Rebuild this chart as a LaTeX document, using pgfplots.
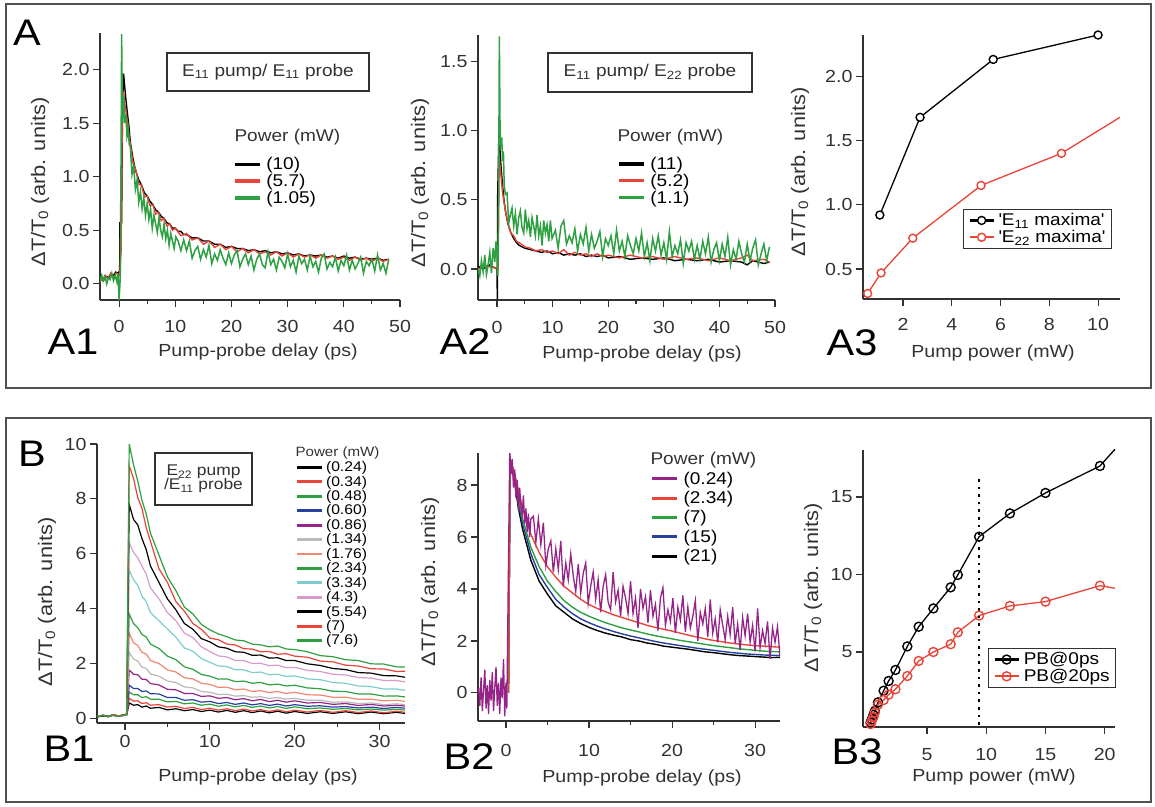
\documentclass[border=0pt]{standalone}
\usepackage{fontspec}
\setmainfont{Liberation Sans}[FakeStretch=1.12]
\usepackage{graphicx}
\usepackage{pgfplots}
\usepackage{pgfplotstable}
\pgfplotsset{compat=1.18}
\definecolor{cgreen}{RGB}{45,160,65}
\definecolor{cred}{RGB}{232,68,56}
\definecolor{cblue}{RGB}{40,65,160}
\definecolor{cpurple}{RGB}{150,35,135}
\definecolor{cgray}{RGB}{185,185,185}
\definecolor{csalmon}{RGB}{240,135,115}
\definecolor{ccyan}{RGB}{125,205,205}
\definecolor{cpink}{RGB}{215,155,205}
\definecolor{caxis}{RGB}{50,50,50}
\definecolor{cframe}{RGB}{80,80,80}
\newcommand{\fs}[1]{\fontsize{#1}{#1}\selectfont}
\pgfplotsset{
 panel/.style={
  scale only axis, anchor=south west,
  axis lines*=left,
  axis line style={-, line width=1.1pt, caxis},
  tick pos=left, tick align=outside,
  major tick length=7pt, minor tick length=4pt,
  tick style={caxis, line width=1.1pt},
  tick label style={font=\fs{17.5}, text=caxis},
  /pgf/number format/assume math mode=true,
  legend cell align=left,
 },
 nolegbox/.style={legend style={draw=none, fill=none, inner sep=0pt, nodes={inner sep=0pt}, column sep=5pt}},
 linelegend/.style={legend image code/.code={\draw[##1, line width=3.2pt] (0pt,0pt) -- (25pt,0pt);}},
 marklegend/.style={legend image code/.code={\draw[mark repeat=2,mark phase=2,##1, line width=2.2pt] plot coordinates {(0pt,0pt) (12pt,0pt) (24pt,0pt)};}},
}
\pgfplotstableread{
t k24 r34 g48 b60 p86 gy134 s176 g234 c334 pk43 k554 r7 g76
-3.3 0.05 0.06 0.04 0.05 0.06 0.05 0.04 0.05 0.06 0.05 0.04 0.05 0.06
-2.6 0.09 0.1 0.11 0.08 0.1 0.09 0.11 0.1 0.09 0.1 0.08 0.1 0.09
-2.0 0.06 0.05 0.07 0.06 0.05 0.07 0.06 0.05 0.06 0.07 0.06 0.05 0.07
-1.4 0.11 0.12 0.1 0.11 0.13 0.1 0.12 0.11 0.1 0.12 0.11 0.13 0.1
-0.8 0.07 0.08 0.06 0.08 0.07 0.06 0.08 0.07 0.08 0.06 0.07 0.08 0.06
-0.2 0.1 0.09 0.11 0.1 0.09 0.11 0.1 0.12 0.1 0.09 0.11 0.1 0.12
0.2 0.12 0.12 0.13 0.12 0.14 0.13 0.12 0.14 0.13 0.12 0.14 0.13 0.15
0.5 0.55 0.72 0.95 1.2 1.75 2.4 3.1 3.8 5.4 6.4 7.8 9.2 10.0
1 0.47 0.62 0.85 1.08 1.6 2.15 2.75 3.45 5.05 6.05 7.25 8.75 9.25
1.5 0.49 0.63 0.85 1.08 1.58 2.08 2.65 3.3 4.85 5.85 7.05 8.05 8.65
2 0.4 0.53 0.75 0.97 1.42 1.86 2.4 3.05 4.45 5.55 6.55 7.65 7.95
2.5 0.44 0.56 0.78 0.99 1.41 1.81 2.34 2.96 4.25 5.25 6.15 6.95 7.45
3 0.36 0.47 0.69 0.89 1.26 1.61 2.1 2.7 3.85 4.75 5.55 6.45 6.75
4 0.39 0.49 0.69 0.88 1.21 1.53 1.99 2.54 3.55 4.35 4.95 5.45 5.95
5 0.3 0.4 0.59 0.75 1.05 1.35 1.76 2.26 3.25 3.85 4.35 4.95 5.15
6 0.34 0.43 0.61 0.75 1.03 1.3 1.68 2.13 2.95 3.55 3.95 4.25 4.65
7 0.27 0.35 0.52 0.65 0.9 1.14 1.47 1.87 2.56 3.1 3.45 3.9 4.05
8 0.31 0.39 0.55 0.67 0.9 1.1 1.43 1.78 2.44 2.94 3.24 3.45 3.8
9 0.24 0.31 0.47 0.58 0.79 0.97 1.27 1.59 2.17 2.6 2.9 3.24 3.42
10 0.29 0.36 0.51 0.61 0.81 0.94 1.23 1.53 2.04 2.43 2.78 2.92 3.22
11 0.22 0.29 0.43 0.53 0.72 0.86 1.12 1.42 1.9 2.27 2.6 2.86 3.07
12 0.28 0.34 0.48 0.57 0.75 0.87 1.13 1.43 1.88 2.23 2.55 2.7 2.97
13 0.21 0.27 0.41 0.5 0.67 0.8 1.03 1.33 1.76 2.1 2.42 2.67 2.85
14 0.27 0.33 0.46 0.55 0.71 0.82 1.06 1.35 1.76 2.1 2.4 2.53 2.82
15 0.2 0.26 0.39 0.48 0.63 0.76 0.97 1.27 1.66 1.99 2.29 2.52 2.7
16 0.26 0.31 0.44 0.53 0.68 0.78 1.0 1.3 1.68 2.0 2.3 2.42 2.67
17 0.19 0.24 0.37 0.46 0.6 0.72 0.93 1.21 1.58 1.91 2.19 2.43 2.6
18 0.25 0.3 0.42 0.51 0.65 0.75 0.97 1.24 1.6 1.93 2.2 2.33 2.63
19 0.18 0.23 0.35 0.44 0.58 0.69 0.9 1.17 1.52 1.84 2.1 2.35 2.52
20 0.24 0.29 0.41 0.49 0.63 0.72 0.94 1.2 1.54 1.85 2.1 2.26 2.5
21.5 0.17 0.22 0.34 0.43 0.55 0.65 0.85 1.1 1.43 1.74 1.98 2.22 2.42
23 0.23 0.28 0.37 0.45 0.57 0.65 0.84 1.07 1.4 1.7 1.92 2.08 2.28
24.5 0.17 0.21 0.32 0.4 0.5 0.58 0.76 0.98 1.3 1.6 1.81 2.05 2.24
26 0.23 0.27 0.35 0.42 0.53 0.59 0.76 0.97 1.27 1.57 1.77 1.93 2.13
27.5 0.16 0.2 0.3 0.37 0.46 0.53 0.69 0.88 1.17 1.48 1.66 1.9 2.1
29 0.22 0.26 0.33 0.4 0.5 0.55 0.69 0.88 1.15 1.46 1.64 1.8 1.98
30.5 0.16 0.19 0.29 0.35 0.44 0.49 0.63 0.8 1.06 1.37 1.55 1.79 1.97
32 0.21 0.25 0.32 0.39 0.47 0.52 0.65 0.81 1.06 1.37 1.54 1.7 1.87
33 0.17 0.21 0.29 0.36 0.44 0.49 0.61 0.77 1.01 1.32 1.49 1.71 1.86
}\tabBone
\pgfplotstableread{
t k21 b15 g7 r234
0.3 0 0 0 0
0.5 9.0 9.0 9.0 9.0
1 8.2 8.3 8.4 8.5
1.5 7.1 7.3 7.5 7.8
2 6.3 6.5 6.7 7.1
2.5 5.7 5.95 6.15 6.6
3 5.1 5.35 5.6 6.1
4 4.3 4.55 4.85 5.4
5 3.8 4.05 4.3 4.85
6 3.35 3.6 3.9 4.45
7 3.1 3.3 3.55 4.1
8 2.85 3.05 3.3 3.85
9 2.67 2.85 3.1 3.6
10 2.52 2.7 2.95 3.4
11 2.4 2.57 2.82 3.25
12 2.3 2.46 2.7 3.12
13 2.22 2.36 2.6 3.0
14 2.15 2.27 2.5 2.9
15 2.05 2.19 2.42 2.8
16 2.0 2.12 2.35 2.7
17 1.92 2.05 2.27 2.6
18 1.87 1.98 2.2 2.52
19 1.8 1.92 2.14 2.45
20 1.76 1.87 2.08 2.38
21 1.72 1.82 2.02 2.3
22 1.68 1.77 1.97 2.22
23 1.63 1.72 1.92 2.15
24 1.58 1.68 1.87 2.08
25 1.55 1.64 1.82 2.02
26 1.51 1.6 1.78 1.97
27 1.47 1.56 1.74 1.92
28 1.44 1.53 1.7 1.88
29 1.42 1.5 1.67 1.85
30 1.4 1.48 1.64 1.82
31 1.38 1.46 1.61 1.8
32 1.36 1.45 1.59 1.78
33 1.37 1.44 1.58 1.76
}\tabBtwo
\begin{document}
\begin{tikzpicture}
\path[use as bounding box] (0pt,0pt) rectangle (1155pt,-806pt);
\draw[cframe, line width=1.5pt] (6pt,-4pt) rectangle (1151pt,-388pt);
\draw[cframe, line width=1.5pt] (6pt,-418pt) rectangle (1151pt,-802pt);

% ---------------- A1
\begin{axis}[panel, nolegbox, linelegend, at={(100pt,-300pt)}, width=300pt, height=267pt,
 xmin=-3.4, xmax=50, ymin=-0.15, ymax=2.34,
 xtick={0,10,20,30,40,50}, minor xtick={5,15,25,35,45}, ytick={0,0.5,1,1.5,2},
 xticklabel shift=10pt,
 yticklabel style={/pgf/number format/.cd,fixed,fixed zerofill,precision=1},
 legend style={at={(axis description cs:0.443,0.535)}, anchor=north west, font=\fs{17}, row sep=3pt}]
\addplot[black, line width=1.4pt] coordinates {(-3.4,0.03) (-3.0,0.06) (-2.6,0.04) (-2.2,0.07) (-1.8,0.06) (-1.4,0.09) (-1.0,0.08) (-0.6,0.11) (-0.2,0.1) (0.1,0.12) (0.15,0.57) (0.45,0.57) (0.6,1.6) (0.8,1.96) (1.0,1.84) (1.25,1.7) (1.5,1.58) (1.75,1.47) (2.0,1.32) (2.25,1.24) (2.5,1.16) (2.75,1.1) (3.0,1.05) (3.5,0.97) (4.0,0.92) (4.5,0.85) (5.0,0.82) (5.5,0.77) (6.0,0.74) (6.5,0.69) (7.0,0.67) (7.5,0.63) (8.0,0.61) (8.5,0.57) (9.0,0.56) (9.5,0.52) (10,0.52) (10.5,0.49) (11,0.49) (11.5,0.46) (12,0.46) (13,0.43) (14,0.43) (15,0.4) (16,0.4) (17,0.37) (18,0.37) (19,0.34) (20,0.35) (21,0.33) (22,0.33) (23,0.31) (24,0.32) (25,0.3) (26,0.31) (27,0.29) (28,0.3) (29,0.28) (30,0.29) (31,0.27) (32,0.28) (33,0.26) (34,0.27) (35,0.26) (36,0.27) (37,0.25) (38,0.26) (39,0.24) (40,0.26) (41,0.24) (42,0.25) (43,0.23) (44,0.24) (45,0.23) (46,0.24) (47,0.22) (48,0.23)};
\addlegendentry{(10)}
\addplot[cred, line width=1.4pt] coordinates {(-3.4,0.05) (-3.0,0.03) (-2.5,0.08) (-2.0,0.05) (-1.5,0.1) (-1.0,0.06) (-0.5,0.1) (0.1,0.08) (0.35,0.3) (0.6,1.75) (0.8,1.78) (1.0,1.68) (1.25,1.6) (1.5,1.5) (1.75,1.38) (2.0,1.3) (2.5,1.12) (3.0,1.06) (3.5,0.93) (4.0,0.92) (4.5,0.81) (5.0,0.82) (5.5,0.73) (6.0,0.74) (6.5,0.65) (7.0,0.67) (7.5,0.59) (8.0,0.61) (8.5,0.54) (9.0,0.56) (9.5,0.5) (10,0.52) (11,0.45) (12,0.47) (13,0.41) (14,0.43) (15,0.37) (16,0.4) (17,0.34) (18,0.37) (19,0.32) (20,0.35) (21,0.3) (22,0.33) (23,0.29) (24,0.32) (25,0.28) (26,0.3) (27,0.27) (28,0.3) (29,0.26) (30,0.29) (31,0.25) (32,0.28) (33,0.25) (34,0.27) (35,0.24) (36,0.27) (37,0.24) (38,0.26) (39,0.23) (40,0.25) (41,0.22) (42,0.25) (43,0.22) (44,0.24) (45,0.21) (46,0.24) (47,0.21) (48,0.23)};
\addlegendentry{(5.7)}
\addplot[cgreen, line width=1.5pt] coordinates {(-3.4,0.02) (-3.1,0.08) (-2.8,0.03) (-2.5,0.07) (-2.2,0.0) (-1.9,0.06) (-1.6,0.04) (-1.3,0.1) (-1.0,0.03) (-0.7,0.08) (-0.4,0.02) (-0.2,0.1) (0.0,-0.15) (0.2,0.05) (0.35,1.2) (0.45,2.33) (0.6,1.5) (0.8,1.75) (1.0,1.5) (1.2,1.58) (1.4,1.38) (1.6,1.45) (1.8,1.3) (2.0,1.28) (2.3,1.02) (2.6,1.1) (2.9,0.88) (3.2,0.97) (3.5,0.76) (3.8,0.86) (4.1,0.7) (4.4,0.8) (4.7,0.64) (5.0,0.75) (5.3,0.6) (5.6,0.7) (5.9,0.52) (6.2,0.64) (6.5,0.56) (6.8,0.48) (7.1,0.62) (7.4,0.5) (7.7,0.44) (8.0,0.56) (8.3,0.42) (8.6,0.5) (8.9,0.36) (9.2,0.47) (9.5,0.4) (9.8,0.33) (10.1,0.44) (10.5,0.40) (11.0,0.31) (11.5,0.41) (12.0,0.31) (12.5,0.40) (13.0,0.24) (13.5,0.31) (14.0,0.35) (14.5,0.23) (15.0,0.32) (15.5,0.25) (16.0,0.36) (16.5,0.19) (17.0,0.28) (17.5,0.22) (18.0,0.32) (18.5,0.24) (19.0,0.18) (19.5,0.29) (20.0,0.19) (20.5,0.27) (21.0,0.31) (21.5,0.16) (22.0,0.23) (22.5,0.28) (23.0,0.18) (23.5,0.26) (24.0,0.13) (24.5,0.23) (25.0,0.28) (25.5,0.18) (26.0,0.15) (26.5,0.30) (27.0,0.18) (27.5,0.23) (28.0,0.13) (28.5,0.25) (29.0,0.21) (29.5,0.15) (30.0,0.28) (30.5,0.16) (31.0,0.22) (31.5,0.11) (32.0,0.26) (32.5,0.19) (33.0,0.23) (33.5,0.13) (34.0,0.26) (34.5,0.16) (35.0,0.21) (35.5,0.11) (36.0,0.24) (36.5,0.28) (37.0,0.14) (37.5,0.20) (38.0,0.16) (38.5,0.25) (39.0,0.12) (39.5,0.22) (40.0,0.17) (40.5,0.27) (41.0,0.13) (41.5,0.22) (42.0,0.14) (42.5,0.19) (43.0,0.25) (43.5,0.10) (44.0,0.21) (44.5,0.17) (45.0,0.23) (45.5,0.12) (46.0,0.27) (46.5,0.13) (47.0,0.19) (47.5,0.10) (48.0,0.23)};
\addlegendentry{(1.05)}
\end{axis}

% ---------------- A2
\begin{axis}[panel, nolegbox, linelegend, at={(478pt,-300pt)}, width=297pt, height=265pt,
 xmin=-3.42, xmax=50, ymin=-0.224, ymax=1.69,
 xtick={0,10,20,30,40,50}, minor xtick={5,15,25,35,45}, ytick={0,0.5,1,1.5},
 xticklabel shift=11pt,
 yticklabel style={/pgf/number format/.cd,fixed,fixed zerofill,precision=1},
 legend style={at={(axis description cs:0.468,0.54)}, anchor=north west, font=\fs{17}, row sep=3pt}]
\addplot[black, line width=1.4pt] coordinates {(-3.4,0.02) (-2.5,0.0) (-1.5,0.03) (-0.5,0.01) (0.0,0.0) (0.05,-0.22) (0.1,0.5) (0.3,0.9) (0.5,0.88) (0.7,0.75) (1.0,0.6) (1.3,0.48) (1.6,0.4) (2.0,0.32) (2.5,0.26) (3.0,0.22) (3.5,0.19) (4.0,0.17) (5,0.15) (6,0.14) (7,0.13) (8,0.12) (9,0.13) (10,0.11) (11,0.12) (12,0.1) (13,0.11) (14,0.1) (15,0.11) (16,0.09) (17,0.1) (18,0.09) (19,0.1) (20,0.08) (22,0.09) (24,0.07) (26,0.08) (28,0.07) (30,0.08) (32,0.06) (34,0.07) (36,0.06) (38,0.07) (40,0.05) (42,0.06) (44,0.05) (45,0.03) (46,0.06) (48,0.04) (49,0.05)};
\addlegendentry{(11)}
\addplot[cred, line width=1.4pt] coordinates {(-3.4,0.0) (-2,0.02) (-0.5,0.01) (0.2,0.0) (0.4,0.8) (0.6,0.72) (1.0,0.55) (1.5,0.42) (2.0,0.33) (2.5,0.26) (3,0.24) (3.5,0.2) (4,0.19) (5,0.16) (6,0.15) (7,0.13) (8,0.14) (9,0.12) (10,0.13) (11,0.11) (12,0.14) (13,0.1) (14,0.12) (15,0.1) (16,0.11) (17,0.09) (18,0.11) (19,0.09) (20,0.1) (22,0.08) (24,0.1) (26,0.08) (28,0.09) (30,0.07) (32,0.09) (34,0.07) (36,0.08) (38,0.06) (40,0.08) (42,0.06) (44,0.08) (45,0.1) (46,0.06) (48,0.07) (49,0.05)};
\addlegendentry{(5.2)}
\addplot[cgreen, line width=1.5pt] coordinates {(-3.4,0.0) (-3.1,-0.05) (-2.8,0.06) (-2.5,-0.02) (-2.2,0.1) (-1.9,-0.04) (-1.6,0.03) (-1.3,0.12) (-1.0,-0.03) (-0.7,0.15) (-0.4,0.05) (-0.2,0.2) (0.0,0.1) (0.15,-0.05) (0.3,0.6) (0.42,1.68) (0.55,1.0) (0.7,0.88) (0.85,0.95) (1.0,0.78) (1.15,0.85) (1.3,0.6) (1.5,0.54) (1.8,0.55) (2.1,0.33) (2.4,0.39) (2.7,0.44) (3.0,0.31) (3.3,0.40) (3.6,0.25) (3.9,0.37) (4.2,0.42) (4.5,0.30) (4.8,0.26) (5.1,0.43) (5.4,0.29) (5.7,0.35) (6.0,0.23) (6.3,0.37) (6.6,0.31) (6.9,0.24) (7.2,0.39) (7.5,0.24) (7.8,0.31) (8.1,0.17) (8.4,0.35) (8.7,0.26) (9.0,0.32) (9.3,0.20) (9.6,0.35) (9.9,0.22) (10.5,0.28) (11.0,0.15) (11.5,0.31) (12.0,0.35) (12.5,0.18) (13.0,0.24) (13.5,0.19) (14.0,0.29) (14.5,0.13) (15.0,0.25) (15.5,0.18) (16.0,0.30) (16.5,0.13) (17.0,0.25) (17.5,0.15) (18.0,0.20) (18.5,0.27) (19.0,0.09) (19.5,0.22) (20.0,0.17) (20.5,0.24) (21.0,0.11) (21.5,0.28) (22.0,0.13) (22.5,0.20) (23.0,0.09) (23.5,0.24) (24.0,0.17) (24.5,0.11) (25.0,0.22) (25.5,0.13) (26.0,0.26) (26.5,0.09) (27.0,0.19) (27.5,0.06) (28.0,0.22) (28.5,0.13) (29.0,0.24) (29.5,0.10) (30.0,0.19) (30.5,0.07) (31.0,0.27) (31.5,0.09) (32.0,0.17) (32.5,0.11) (33.0,0.21) (33.5,0.04) (34.0,0.19) (34.5,0.13) (35.0,0.20) (35.5,0.07) (36.0,0.17) (36.5,0.07) (37.0,0.20) (37.5,0.11) (38.0,0.23) (38.5,0.05) (39.0,0.14) (39.5,0.19) (40.0,0.06) (40.5,0.18) (41.0,0.09) (41.5,0.23) (42.0,0.03) (42.5,0.14) (43.0,0.07) (43.5,0.20) (44.0,0.11) (44.5,0.05) (45.0,0.18) (45.5,0.06) (46.0,0.15) (46.5,0.21) (47.0,0.03) (47.5,0.11) (48.0,0.18) (48.5,0.06) (49.0,0.16)};
\addlegendentry{(1.1)}
\end{axis}

% ---------------- A3
\begin{axis}[panel, marklegend, at={(863pt,-299pt)}, width=257pt, height=264pt, clip=false,
 xmin=0.36, xmax=10.9, ymin=0.267, ymax=2.32,
 xtick={2,4,6,8,10}, ytick={0.5,1,1.5,2},
 xticklabel shift=9pt,
 yticklabel style={/pgf/number format/.cd,fixed,fixed zerofill,precision=1},
 legend style={at={(axis description cs:0.389,0.341)}, anchor=north west, draw=caxis, line width=1.1pt, fill=white, font=\fs{17}, inner xsep=5pt, inner ysep=3pt, row sep=1pt, nodes={inner sep=1pt}, column sep=3pt}]
\addplot[black, line width=1.3pt, mark=*, mark size=4pt, mark options={fill=white, line width=1.4pt}] coordinates {(1.05,0.92) (2.7,1.68) (5.7,2.13) (10,2.32)};
\addlegendentry{\textquotesingle E\textsubscript{11} maxima\textquotesingle}
\addplot[cred, line width=1.3pt, mark=*, mark size=4pt, mark options={fill=white, line width=1.4pt}] coordinates {(0.55,0.31) (1.1,0.47) (2.4,0.74) (5.2,1.15) (8.5,1.40)};
\addlegendentry{\textquotesingle E\textsubscript{22} maxima\textquotesingle}
\addplot[cred, line width=1.3pt, forget plot] coordinates {(8.5,1.40) (10.9,1.68)};
\end{axis}

% ---------------- B1
\begin{axis}[panel, nolegbox, legend image code/.code={\draw[#1, line width=2.8pt] (0pt,0pt) -- (25pt,0pt);}, at={(97pt,-723pt)}, width=308pt, height=279pt,
 xmin=-3.3, xmax=33, ymin=-0.18, ymax=10,
 xtick={0,10,20,30}, minor xtick={5,15,25}, ytick={0,2,4,6,8,10},
 xticklabel shift=2pt,
 legend style={at={(axis description cs:0.643,0.938)}, anchor=north west, font=\fs{14}, row sep=2.8pt, column sep=3pt}]
\addplot[black, line width=1.2pt] table[x=t,y=k24] {\tabBone}; \addlegendentry{(0.24)}
\addplot[cred, line width=1.2pt] table[x=t,y=r34] {\tabBone}; \addlegendentry{(0.34)}
\addplot[cgreen, line width=1.2pt] table[x=t,y=g48] {\tabBone}; \addlegendentry{(0.48)}
\addplot[cblue, line width=1.2pt] table[x=t,y=b60] {\tabBone}; \addlegendentry{(0.60)}
\addplot[cpurple, line width=1.2pt] table[x=t,y=p86] {\tabBone}; \addlegendentry{(0.86)}
\addplot[cgray, line width=1.2pt] table[x=t,y=gy134] {\tabBone}; \addlegendentry{(1.34)}
\addplot[csalmon, line width=1.2pt] table[x=t,y=s176] {\tabBone}; \addlegendentry{(1.76)}
\addplot[cgreen, line width=1.2pt] table[x=t,y=g234] {\tabBone}; \addlegendentry{(2.34)}
\addplot[ccyan, line width=1.2pt] table[x=t,y=c334] {\tabBone}; \addlegendentry{(3.34)}
\addplot[cpink, line width=1.2pt] table[x=t,y=pk43] {\tabBone}; \addlegendentry{(4.3)}
\addplot[black, line width=1.2pt] table[x=t,y=k554] {\tabBone}; \addlegendentry{(5.54)}
\addplot[cred, line width=1.2pt] table[x=t,y=r7] {\tabBone}; \addlegendentry{(7)}
\addplot[cgreen, line width=1.2pt] table[x=t,y=g76] {\tabBone}; \addlegendentry{(7.6)}
\end{axis}

% ---------------- B2
\begin{axis}[panel, nolegbox, linelegend, at={(478pt,-721pt)}, width=302pt, height=268pt,
 xmin=-3.37, xmax=33, ymin=-1.08, ymax=9.23,
 xtick={0,10,20,30}, minor xtick={5,15,25}, ytick={0,2,4,6,8},
 xticklabel shift=13pt,
 legend style={at={(axis description cs:0.57,0.93)}, anchor=north west, font=\fs{17}, row sep=5.5pt}]
\addlegendimage{cpurple} \addlegendentry{(0.24)}
\addlegendimage{cred} \addlegendentry{(2.34)}
\addlegendimage{cgreen} \addlegendentry{(7)}
\addlegendimage{cblue} \addlegendentry{(15)}
\addlegendimage{black} \addlegendentry{(21)}
\addplot[black, line width=1.4pt, forget plot] table[x=t,y=k21] {\tabBtwo};
\addplot[cblue, line width=1.4pt, forget plot] table[x=t,y=b15] {\tabBtwo};
\addplot[cgreen, line width=1.4pt, forget plot] table[x=t,y=g7] {\tabBtwo};
\addplot[cred, line width=1.4pt, forget plot] table[x=t,y=r234] {\tabBtwo};
\addplot[cpurple, line width=1.3pt, forget plot] coordinates {(-3.3,0.2) (-3.15,-0.5) (-3.0,0.6) (-2.85,-0.7) (-2.7,0.1) (-2.55,0.9) (-2.4,-0.6) (-2.25,0.3) (-2.1,-0.8) (-1.95,0.5) (-1.8,-0.3) (-1.65,0.8) (-1.5,-0.7) (-1.35,0.2) (-1.2,1.0) (-1.05,-0.5) (-0.9,0.4) (-0.75,-0.8) (-0.6,0.6) (-0.45,-0.2) (-0.3,1.3) (-0.15,-0.9) (0.0,0.4) (0.1,-0.6) (0.3,5.0) (0.45,9.3) (0.6,8.4) (0.75,9.0) (0.9,7.9) (1.05,8.6) (1.2,7.5) (1.35,8.2) (1.5,7.0) (1.65,7.9) (1.8,7.2) (1.95,6.9) (2.1,7.6) (2.25,6.5) (2.4,7.1) (2.55,6.2) (2.7,6.9) (2.85,6.0) (3.0,6.7) (3.3,6.8) (3.6,5.8) (3.9,6.7) (4.2,5.7) (4.5,6.55) (4.8,4.9) (5.1,5.55) (5.4,5.85) (5.7,4.65) (6.0,5.55) (6.3,4.75) (6.6,5.85) (6.9,4.1) (7.2,5.0) (7.5,4.35) (7.8,5.35) (8.1,4.5) (8.4,3.9) (8.7,4.95) (9.0,3.85) (9.3,4.6) (9.6,5.0) (9.9,3.45) (10.2,4.1) (10.5,4.65) (10.8,3.6) (11.1,4.35) (11.4,3.1) (11.7,4.1) (12.0,4.55) (12.3,3.5) (12.6,3.2) (12.9,4.65) (13.2,3.5) (13.5,3.95) (13.8,2.95) (14.1,4.1) (14.4,3.65) (14.7,3.05) (15.0,4.3) (15.3,3.05) (15.6,3.65) (15.9,2.5) (16.2,4.0) (16.5,3.25) (16.8,3.7) (17.1,2.7) (17.4,3.95) (17.7,2.95) (18.0,3.4) (18.3,2.4) (18.6,3.65) (18.9,4.05) (19.2,2.6) (19.5,3.2) (19.8,2.75) (20.1,3.65) (20.4,2.3) (20.7,3.3) (21.0,2.8) (21.3,3.75) (21.6,2.35) (21.9,3.3) (22.2,2.5) (22.5,2.95) (22.8,3.55) (23.1,2.0) (23.4,3.1) (23.7,2.65) (24.0,3.25) (24.3,2.15) (24.6,3.6) (24.9,2.3) (25.2,2.85) (25.5,1.95) (25.8,3.2) (26.1,2.6) (26.4,2.05) (26.7,2.95) (27.0,2.25) (27.3,3.3) (27.6,1.9) (27.9,2.65) (28.2,1.65) (28.5,2.9) (28.8,2.2) (29.1,3.05) (29.4,1.95) (29.7,2.6) (30.0,1.6) (30.3,3.25) (30.6,1.75) (30.9,2.4) (31.2,1.9) (31.5,2.75) (31.8,1.3) (32.1,2.5) (32.4,1.95) (32.7,2.55) (33.0,1.4)};
\end{axis}

% ---------------- B3
\begin{axis}[panel, marklegend, at={(863pt,-727pt)}, width=252pt, height=277pt, clip=false,
 xmin=-0.4, xmax=20.87, ymin=0.16, ymax=18.03,
 xtick={5,10,15,20}, ytick={5,10,15},
 xticklabel shift=11pt,
 legend style={at={(axis description cs:0.496,0.285)}, anchor=north west, draw=caxis, line width=1.1pt, fill=white, font=\fs{17}, inner xsep=5pt, inner ysep=3pt, row sep=1pt, nodes={inner sep=1pt}, column sep=3pt}]
\addplot[black, line width=1.3pt, mark=o, mark size=4.5pt, mark options={line width=1.4pt}] coordinates {(0.24,0.45) (0.34,0.65) (0.48,0.95) (0.60,1.2) (0.86,1.75) (1.34,2.5) (1.76,3.13) (2.34,3.84) (3.34,5.36) (4.3,6.63) (5.54,7.81) (7,9.17) (7.6,9.97) (9.4,12.44) (12,13.94) (15,15.26) (19.6,17.0)};
\addlegendentry{PB@0ps}
\addplot[cred, line width=1.3pt, mark=o, mark size=4.5pt, mark options={line width=1.4pt}] coordinates {(0.24,0.35) (0.34,0.55) (0.48,0.8) (0.60,1.1) (0.86,1.6) (1.34,1.9) (1.76,2.25) (2.34,2.6) (3.34,3.45) (4.3,4.42) (5.54,5.0) (7,5.5) (7.6,6.27) (9.4,7.35) (12,7.97) (15,8.25) (19.6,9.28)};
\addlegendentry{PB@20ps}
\addplot[black, line width=1.3pt, forget plot] coordinates {(19.6,17.0) (20.87,18.08)};
\addplot[cred, line width=1.3pt, forget plot] coordinates {(19.6,9.28) (20.87,9.11)};
\addplot[black, line width=2.6pt, dash pattern=on 2.6pt off 5pt, forget plot] coordinates {(9.4,0.3) (9.4,16.3)};
\end{axis}

% ---------------- text
\node[font=\fs{37}, text=black] at (27pt,-33pt) {A};
\node[font=\fs{37}] at (73pt,-342pt) {A1};
\node[font=\fs{37}] at (465pt,-342pt) {A2};
\node[font=\fs{37}] at (852pt,-343pt) {A3};
\node[font=\fs{37}] at (32pt,-454pt) {B};
\node[font=\fs{37}] at (69pt,-749pt) {B1};
\node[font=\fs{37}] at (469pt,-757pt) {B2};
\node[font=\fs{37}] at (857pt,-752pt) {B3};

\node[font=\fs{17.5}, text=caxis] at (258pt,-352pt) {Pump-probe delay (ps)};
\node[font=\fs{17.5}, text=caxis] at (642pt,-354pt) {Pump-probe delay (ps)};
\node[font=\fs{17.5}, text=caxis] at (993pt,-353pt) {Pump power (mW)};
\node[font=\fs{17.5}, text=caxis] at (258pt,-777pt) {Pump-probe delay (ps)};
\node[font=\fs{17.5}, text=caxis] at (642pt,-778pt) {Pump-probe delay (ps)};
\node[font=\fs{17.5}, text=caxis] at (994pt,-777pt) {Pump power (mW)};

\node[font=\fs{19.5}, text=caxis, rotate=90] at (40pt,-182pt) {ΔT/T\textsubscript{0} (arb. units)};
\node[font=\fs{19.5}, text=caxis, rotate=90] at (420pt,-183pt) {ΔT/T\textsubscript{0} (arb. units)};
\node[font=\fs{19.5}, text=caxis, rotate=90] at (800pt,-172pt) {ΔT/T\textsubscript{0} (arb. units)};
\node[font=\fs{19.5}, text=caxis, rotate=90] at (47pt,-602pt) {ΔT/T\textsubscript{0} (arb. units)};
\node[font=\fs{19.5}, text=caxis, rotate=90] at (430pt,-582pt) {ΔT/T\textsubscript{0} (arb. units)};
\node[font=\fs{19.5}, text=caxis, rotate=90] at (813pt,-588pt) {ΔT/T\textsubscript{0} (arb. units)};

\node[draw=caxis, line width=1.1pt, minimum width=202pt, minimum height=38pt, font=\fs{17}, text=caxis] at (268pt,-72pt) {E\textsubscript{11} pump/ E\textsubscript{11} probe};
\node[draw=caxis, line width=1.1pt, minimum width=204pt, minimum height=39pt, font=\fs{17}, text=caxis] at (650pt,-72.5pt) {E\textsubscript{11} pump/ E\textsubscript{22} probe};
\node[draw=caxis, line width=1.1pt, minimum width=97pt, minimum height=52pt, font=\fs{15.5}, text=caxis, align=center, inner sep=2pt] at (203.5pt,-479pt) {E\textsubscript{22} pump\\[-1pt]/E\textsubscript{11} probe};

\node[font=\fs{17}, text=caxis, anchor=west] at (231pt,-137pt) {Power (mW)};
\node[font=\fs{17}, text=caxis, anchor=west] at (614pt,-137pt) {Power (mW)};
\node[font=\fs{13.5}, text=caxis, anchor=west] at (292pt,-453pt) {Power (mW)};
\node[font=\fs{17}, text=caxis, anchor=west] at (647pt,-460pt) {Power (mW)};
\end{tikzpicture}
\end{document}
